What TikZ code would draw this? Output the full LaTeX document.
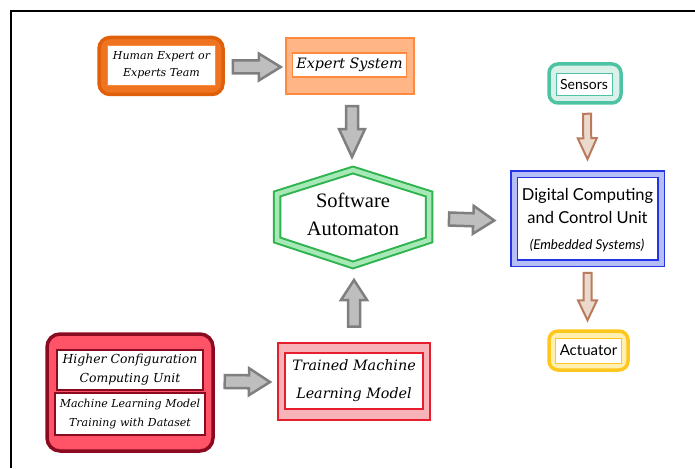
\documentclass[tikz,border=0pt]{standalone}
\usepackage{fontspec}
\setmainfont{Liberation Serif}
\newfontfamily\dvs{DejaVu Serif}
\newfontfamily\sansf{Lato}
\usetikzlibrary{calc}

\definecolor{grayfill}{HTML}{BEBEBE}
\definecolor{grayline}{HTML}{7F7F7F}
\definecolor{brownfill}{HTML}{EAD9CC}
\definecolor{brownline}{HTML}{B97B5B}
\definecolor{orgdark}{HTML}{E0600A}
\definecolor{orgfill}{HTML}{EE7422}
\definecolor{orglight}{HTML}{FFB585}
\definecolor{orgline}{HTML}{FF8A3D}
\definecolor{grnline}{HTML}{2FB34E}
\definecolor{grnfill}{HTML}{A6E8B6}
\definecolor{bluline}{HTML}{2433E6}
\definecolor{blufill}{HTML}{B6BEF6}
\definecolor{tealline}{HTML}{4EC3A3}
\definecolor{tealfill}{HTML}{DAF1EA}
\definecolor{goldline}{HTML}{FFC61E}
\definecolor{goldfill}{HTML}{FFF0B2}
\definecolor{wineline}{HTML}{8A0A22}
\definecolor{winefill}{HTML}{FF5467}
\definecolor{redline}{HTML}{E61E2D}
\definecolor{redfill}{HTML}{F8B3B9}

% block arrow from #2 to #3: #4 shaft half width, #5 head half width, #6 head length
\newcommand\blockarr[6]{%
  \coordinate (ba-h) at ($(#3)!#6!(#2)$);
  \draw[#1] ($(#2)!#4!90:(#3)$) -- ($(ba-h)!#4!-90:(#2)$) -- ($(ba-h)!#5!-90:(#2)$)
    -- (#3) -- ($(ba-h)!#5!90:(#2)$) -- ($(ba-h)!#4!90:(#2)$) -- ($(#2)!#4!-90:(#3)$) -- cycle;}

\tikzset{
  x=1pt, y=-1pt,
  grayarrow/.style={fill=grayfill, draw=grayline, line width=2.5pt, line join=miter},
  brownarrow/.style={fill=brownfill, draw=brownline, line width=2pt, line join=miter},
  box/.style={rectangle, inner sep=0pt, align=center},
}

\begin{document}
\begin{tikzpicture}
\useasboundingbox (0,0) rectangle (695,468);
% outer frame
\draw[line width=2pt] (11,468) -- (11,11) -- (695,11);

% Human expert
\node[box, draw=orgdark, fill=orgfill, line width=3.5pt, rounded corners=11pt,
      minimum width=124pt, minimum height=57pt] (hum) at (161,66) {};
\node[box, draw=orgline, fill=white, line width=1.5pt, minimum width=108pt, minimum height=40pt,
      font=\dvs\itshape\fontsize{11}{17}\selectfont] (humt) at (161.5,65.5) {Human Expert or\\Experts Team};

% Expert system
\node[box, draw=orgline, fill=orglight, line width=2.5pt, minimum width=128pt, minimum height=56pt] (es) at (350,66) {};
\node[box, draw=orgline, fill=white, line width=1.5pt, minimum width=114pt, minimum height=24pt,
      font=\dvs\itshape\fontsize{14.3}{16}\selectfont] (est) at (349.5,65) {Expert System};

% Software automaton
\coordinate (hxT) at (353,170);
\coordinate (hxUR) at (429,194);
\coordinate (hxLR) at (429,240);
\coordinate (hxB) at (353,265);
\coordinate (hxLL) at (277,240);
\coordinate (hxUL) at (277,194);
\draw[draw=grnline, line width=2pt, double=grnfill, double distance=4.5pt, fill=white, line join=miter]
  (hxT) -- (hxUR) -- (hxLR) -- (hxB) -- (hxLL) -- (hxUL) -- cycle;
\node[box, font=\fontsize{20.5}{28}\selectfont] (sw) at (353,214) {Software\\Automaton};

% Digital computing unit
\node[box, draw=bluline, line width=1.5pt, double=blufill, double distance=5pt, fill=white,
      minimum width=147pt, minimum height=89pt] (dig) at (587.5,218.5) {};
\node[box, font=\sansf\fontsize{16.5}{23}\selectfont] (digt) at (587.5,206) {Digital Computing\\and Control Unit};
\node[box, font=\sansf\itshape\fontsize{13.5}{15}\selectfont] (emb) at (587,245.5) {(Embedded Systems)};

% Sensors
\node[box, draw=tealline, fill=tealfill, line width=3.5pt, rounded corners=9pt,
      minimum width=72pt, minimum height=39pt] (sen) at (585,83.5) {};
\node[box, draw=tealline, fill=white, line width=0.8pt, minimum width=56pt, minimum height=22pt,
      font=\sansf\fontsize{14}{16}\selectfont] (sent) at (584,84) {Sensors};

% Actuator
\node[box, draw=goldline, fill=goldfill, line width=3.5pt, rounded corners=9pt,
      minimum width=79pt, minimum height=39pt] (act) at (588.5,350.5) {};
\node[box, draw=goldline, fill=white, line width=0.8pt, minimum width=66pt, minimum height=25pt,
      font=\sansf\fontsize{15}{16}\selectfont] (actt) at (588.5,350.5) {Actuator};

% Higher configuration computing unit
\node[box, draw=wineline, fill=winefill, line width=3.5pt, rounded corners=13pt,
      minimum width=166pt, minimum height=117pt] (hcu) at (130,392.5) {};
\node[box, draw=wineline, fill=white, line width=1.5pt, minimum width=146pt, minimum height=40pt,
      font=\dvs\itshape\fontsize{12.4}{19}\selectfont] (hcut) at (130,370) {Higher Configuration\\Computing Unit};
\node[box, draw=wineline, fill=white, line width=1.5pt, minimum width=150pt, minimum height=42pt,
      font=\dvs\itshape\fontsize{11}{19}\selectfont] (mlt) at (130,414) {Machine Learning Model\\Training with Dataset};

% Trained machine learning model
\node[box, draw=redline, fill=redfill, line width=2pt, minimum width=152pt, minimum height=77pt] (tml) at (354,381) {};
\node[box, draw=redline, fill=white, line width=1.5pt, minimum width=138pt, minimum height=56pt,
      font=\dvs\itshape\fontsize{14.3}{28}\selectfont] (tmlt) at (354,381) {Trained Machine\\Learning Model};

% connector end points
\coordinate (c1a) at ($(hum.east)+(8,1)$);
\coordinate (c1b) at ($(es.west)+(-4,1)$);
\coordinate (c2a) at ($(es.south)+(2,11)$);
\coordinate (c2b) at ($(hxT)+(-1,-13)$);
\coordinate (c3a) at ($(hxUR)!0.5!(hxLR)+(20,2)$);
\coordinate (c3b) at ($(dig.west)+(-19,2)$);
\coordinate (c4a) at ($(tml.north)+(0,-15)$);
\coordinate (c4b) at ($(hxB)+(1,15)$);
\coordinate (c5a) at ($(hcu.east)+(10,-11)$);
\coordinate (c5b) at ($(tml.west)+(-7,1)$);
\coordinate (c6a) at ($(sen.south)+(2,9)$);
\coordinate (c6b) at ($(dig.north)+(0,-14)$);
\coordinate (c7a) at ($(dig.south)+(0,9)$);
\coordinate (c7b) at ($(act.north)+(-1,-9)$);

% connectors
\blockarr{grayarrow}{c1a}{c1b}{6.5pt}{13.5pt}{22pt}
\blockarr{grayarrow}{c2a}{c2b}{6pt}{13pt}{28pt}
\blockarr{grayarrow}{c3a}{c3b}{6.5pt}{14pt}{21pt}
\blockarr{grayarrow}{c4a}{c4b}{6pt}{13pt}{20pt}
\blockarr{grayarrow}{c5a}{c5b}{6.5pt}{13.5pt}{21pt}
\blockarr{brownarrow}{c6a}{c6b}{4pt}{9.5pt}{21pt}
\blockarr{brownarrow}{c7a}{c7b}{4pt}{9.5pt}{20pt}
\end{tikzpicture}
\end{document}
